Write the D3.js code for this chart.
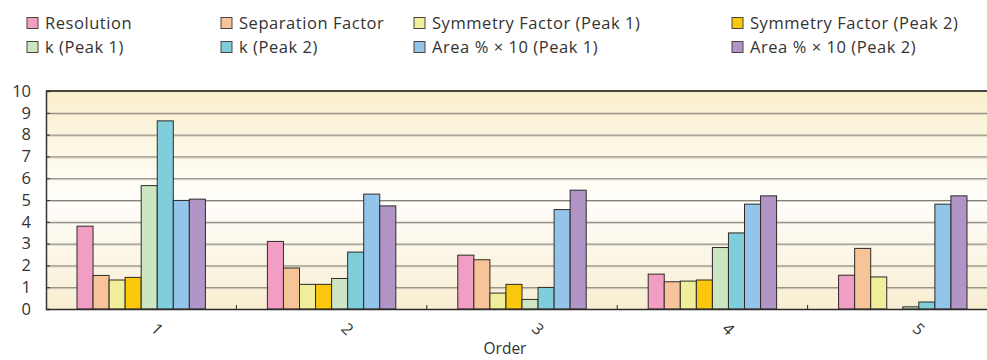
<!DOCTYPE html>
<html>
<head>
<meta charset="utf-8">
<script src="https://cdn.jsdelivr.net/npm/d3@7"></script>
<style>
  body { margin: 0; background: #fff; }
  svg { display: block; font-family: "Open Sans", sans-serif; }
</style>
</head>
<body>
<div id="chart"></div>
<script>
// Data
const orders = ["1", "2", "3", "4", "5"];
const seriesNames = [
  "Resolution", "Separation Factor", "Symmetry Factor (Peak 1)", "Symmetry Factor (Peak 2)",
  "k (Peak 1)", "k (Peak 2)", "Area % × 10 (Peak 1)", "Area % × 10 (Peak 2)"
];
const resolution = [3.8, 3.1, 2.47, 1.6, 1.55];
const separationFactor = [1.54, 1.88, 2.26, 1.25, 2.78];
const symmetryPeak1 = [1.33, 1.13, 0.73, 1.28, 1.47];
const symmetryPeak2 = [1.45, 1.13, 1.13, 1.33, 0];
const kPeak1 = [5.66, 1.4, 0.44, 2.82, 0.1];
const kPeak2 = [8.63, 2.61, 0.99, 3.49, 0.32];
const areaPeak1 = [4.98, 5.27, 4.56, 4.81, 4.81];
const areaPeak2 = [5.04, 4.73, 5.45, 5.19, 5.19];
const yTicks = [0, 1, 2, 3, 4, 5, 6, 7, 8, 9, 10];
const colors = ["#f29ec4", "#f7c49a", "#efee9a", "#fcc80e", "#cce5c3", "#80cedb", "#93c5ea", "#b095c6"];

const allSeries = [resolution, separationFactor, symmetryPeak1, symmetryPeak2, kPeak1, kPeak2, areaPeak1, areaPeak2];
const rows = orders.map((o, i) => ({ order: o, values: allSeries.map((s, j) => ({ key: seriesNames[j], value: s[i] })) }));

const W = 987, H = 360;
const margin = { top: 91, left: 46, bottom: 51 };
const plotRight = 998; // plot runs past the window edge
const svg = d3.select("#chart").append("svg").attr("width", W).attr("height", H);

const x = d3.scaleBand().domain(orders).range([margin.left, plotRight]);
const x1 = d3.scaleBand().domain(seriesNames).range([31, x.bandwidth() - 31]);
const y = d3.scaleLinear().domain([0, 10]).range([H - margin.bottom, margin.top]);

// Background gradient
const grad = svg.append("defs").append("linearGradient")
  .attr("id", "bg").attr("x1", 0).attr("y1", 0).attr("x2", 0).attr("y2", 1);
grad.append("stop").attr("offset", "0%").attr("stop-color", "#faefcc");
grad.append("stop").attr("offset", "50%").attr("stop-color", "#fffefb");
grad.append("stop").attr("offset", "100%").attr("stop-color", "#f8eed2");

svg.append("rect")
  .attr("x", margin.left).attr("y", y(10))
  .attr("width", plotRight - margin.left).attr("height", y(0) - y(10))
  .attr("fill", "url(#bg)");

// Gridlines
const grid = svg.append("g");
yTicks.slice(1, -1).forEach(t => {
  grid.append("line").attr("x1", margin.left).attr("x2", plotRight)
    .attr("y1", y(t) + 1.5).attr("y2", y(t) + 1.5).attr("stroke", "#d2cec2").attr("stroke-width", 1);
  grid.append("line").attr("x1", margin.left).attr("x2", plotRight)
    .attr("y1", y(t) + 0.5).attr("y2", y(t) + 0.5).attr("stroke", "#858076").attr("stroke-width", 1);
});
svg.append("line").attr("x1", margin.left).attr("x2", plotRight)
  .attr("y1", y(10)).attr("y2", y(10)).attr("stroke", "#4a4440").attr("stroke-width", 2);

// Bars
svg.append("g").selectAll("g").data(rows).join("g")
  .attr("transform", d => `translate(${x(d.order)},0)`)
  .selectAll("rect").data(d => d.values.filter(v => v.value > 0)).join("rect")
  .attr("x", d => x1(d.key))
  .attr("y", d => y(d.value))
  .attr("width", x1.bandwidth())
  .attr("height", d => y(0) - y(d.value))
  .attr("fill", d => colors[seriesNames.indexOf(d.key)])
  .attr("stroke", "#2e2a28")
  .attr("stroke-width", 1);

// Y axis
const yAxis = svg.append("g").attr("transform", `translate(${margin.left},0)`)
  .call(d3.axisRight(y).tickValues(yTicks).tickSize(4).tickFormat(d3.format("d")));
yAxis.select(".domain").attr("stroke", "#3a3430").attr("stroke-width", 1.5);
yAxis.selectAll(".tick line").attr("stroke", "#3a3430");
yAxis.selectAll(".tick text")
  .attr("x", -15).attr("text-anchor", "end")
  .attr("font-size", 16.5).attr("fill", "#333").attr("font-family", "Open Sans, sans-serif");

// X axis
const xAxis = svg.append("g").attr("transform", `translate(0,${y(0)})`)
  .call(d3.axisBottom(x).tickSize(0).tickFormat(""));
xAxis.select(".domain").attr("stroke", "#2e2a28").attr("stroke-width", 1.5);
const bounds = orders.slice(1).map(o => x(o));
svg.append("g").selectAll("line").data(bounds).join("line")
  .attr("x1", d => d).attr("x2", d => d)
  .attr("y1", y(0) - 4).attr("y2", y(0))
  .attr("stroke", "#2e2a28");

svg.append("g").selectAll("text").data(orders).join("text")
  .attr("transform", d => `translate(${x(d) + x.bandwidth() / 2 + 12},${y(0) + 24}) rotate(45)`)
  .attr("text-anchor", "middle")
  .attr("font-size", 16).attr("fill", "#333")
  .text(d => d);

svg.append("text")
  .attr("x", 505).attr("y", 354)
  .attr("text-anchor", "middle")
  .attr("font-size", 15.5).attr("fill", "#333")
  .text("Order");

// Legend
const legendX = [27, 221, 414, 732];
const legendY = [23, 47];
const legend = svg.append("g").selectAll("g").data(seriesNames).join("g")
  .attr("transform", (d, i) => `translate(${legendX[i % 4]},${legendY[Math.floor(i / 4)]})`);
legend.append("rect")
  .attr("x", 0).attr("y", -5.5).attr("width", 11).attr("height", 11)
  .attr("fill", (d, i) => colors[i]).attr("stroke", "#4a4440").attr("stroke-width", 1);
legend.append("text")
  .attr("x", 18).attr("y", 0).attr("dy", "0.35em")
  .attr("font-size", 16.5).attr("letter-spacing", 0.55).attr("fill", "#333")
  .text(d => d);
</script>
</body>
</html>
